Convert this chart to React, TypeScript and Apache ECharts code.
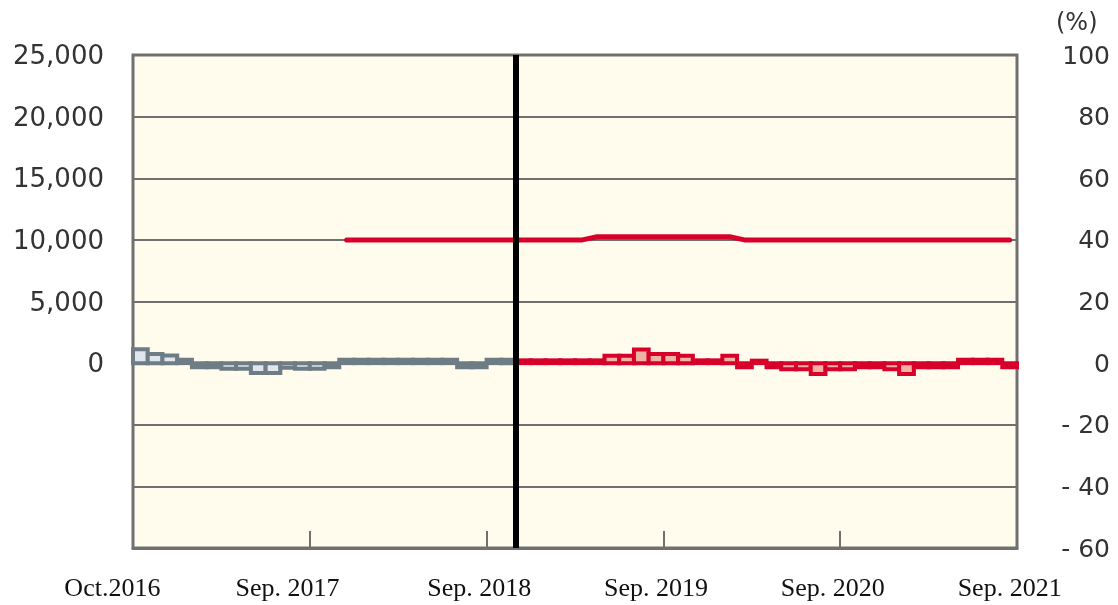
import React, { useEffect, useRef } from 'react';
import * as echarts from 'echarts';

const monthNames = ['Jan', 'Feb', 'Mar', 'Apr', 'May', 'Jun', 'Jul', 'Aug', 'Sep', 'Oct', 'Nov', 'Dec'];
const categories: string[] = [];
for (let i = 0; i < 60; i++) {
  const m = (9 + i) % 12;
  const y = 2016 + Math.floor((9 + i) / 12);
  categories.push(`${monthNames[m]} ${y}`);
}

const xLabelIndex = [0, 11, 23, 35, 47, 59];
const xLabelText = ['Oct.2016', 'Sep. 2017', 'Sep. 2018', 'Sep. 2019', 'Sep. 2020', 'Sep. 2021'];
const xTickIndex = [12, 24, 36, 48];

// index where the series changes colour (Dec 2018)
const changeIndex = 26;

// monthly change, % (right axis)
const barValues = [
  4.5, 3.0, 2.5, 1.1, -1.3, -1.3, -1.8, -1.8, -3.2, -3.2,
  -1.5, -1.8, -1.8, -1.3, 1.1, 1.1, 1.1, 1.1, 1.1, 1.1,
  1.1, 1.1, -1.3, -1.3, 1.1, 1.1, 0.9, 0.9, 0.9, 0.9,
  0.9, 0.9, 2.4, 2.4, 4.4, 3.0, 3.0, 2.4, 0.9, 0.9,
  2.4, -1.3, 0.8, -1.3, -2.0, -2.0, -3.5, -2.0, -2.0, -1.3,
  -1.3, -2.0, -3.5, -1.3, -1.3, -1.3, 1.1, 1.1, 1.1, -1.3,
];

// level (left axis)
const lineValues: (number | null)[] = [
  null, null, null, null, null, null, null, null, null, null,
  null, null, null, null, 10000, 10000, 10000, 10000, 10000, 10000,
  10000, 10000, 10000, 10000, 10000, 10000, 10000, 10000, 10000, 10000,
  10000, 10250, 10250, 10250, 10250, 10250, 10250, 10250, 10250, 10250,
  10250, 10000, 10000, 10000, 10000, 10000, 10000, 10000, 10000, 10000,
  10000, 10000, 10000, 10000, 10000, 10000, 10000, 10000, 10000, 10000,
];

const RED = '#d7002a';
const GRAY_BORDER = '#6e7c86';
const GRAY_FILL = '#dfe6ee';
const RED_FILL = '#f0b3a3';
const AXIS_GRAY = '#707070';

export default function App() {
  const ref = useRef<HTMLDivElement>(null);
  useEffect(() => {
    if (!ref.current) return;
    const chart = echarts.init(ref.current, null, { renderer: 'svg' });
    const serif = '"Liberation Serif", "Times New Roman", serif';
    const sans = '"DejaVu Sans", Verdana, sans-serif';
    chart.setOption({
      animation: false,
      grid: {
        left: 133, top: 55, width: 884, height: 493,
        show: true, backgroundColor: '#fffcee', borderColor: AXIS_GRAY, borderWidth: 3,
        containLabel: false,
      },
      graphic: [
        {
          type: 'text', left: 1056, top: 10,
          style: { text: '(%)', fontSize: 24, fontFamily: sans, fill: '#333' },
        },
      ],
      xAxis: [
        {
          type: 'category',
          data: categories,
          boundaryGap: true,
          axisLine: { show: true, onZero: false, lineStyle: { color: AXIS_GRAY, width: 3 } },
          axisTick: {
            show: true, inside: true, length: 17,
            interval: (i: number) => xTickIndex.includes(i),
            lineStyle: { color: AXIS_GRAY, width: 2 },
          },
          axisLabel: {
            interval: 0,
            margin: 26,
            fontSize: 26,
            fontFamily: serif,
            color: '#111',
            formatter: (_v: string, i: number) => {
              const k = xLabelIndex.indexOf(i);
              if (k < 0) return '';
              if (k === 0) return `{a|${xLabelText[k]}}`;
              if (k === 1) return `{b|${xLabelText[k]}}`;
              return `{c|${xLabelText[k]}}`;
            },
            rich: {
              a: { fontSize: 26, fontFamily: serif, color: '#111', padding: [0, 56, 0, 0] },
              b: { fontSize: 26, fontFamily: serif, color: '#111', padding: [0, 30, 0, 0] },
              c: { fontSize: 26, fontFamily: serif, color: '#111' },
            },
          },
          splitLine: { show: false },
        },
        { type: 'value', min: 0, max: 60, show: false },
      ],
      yAxis: [
        {
          type: 'value', position: 'left', min: -15000, max: 25000, interval: 5000,
          axisLine: { show: false }, axisTick: { show: false },
          axisLabel: {
            margin: 29, fontSize: 26, fontFamily: sans, color: '#333',
            formatter: (v: number) => (v < 0 ? '' : v.toLocaleString('en-US')),
          },
          splitLine: { show: true, lineStyle: { color: AXIS_GRAY, width: 2 } },
        },
        {
          type: 'value', position: 'right', min: -60, max: 100, interval: 20,
          axisLine: { show: false }, axisTick: { show: false },
          axisLabel: {
            margin: 93, align: 'right', fontSize: 25, fontFamily: sans, color: '#333',
            formatter: (v: number) => (v < 0 ? `- ${-v}` : `${v}`),
          },
          splitLine: { show: false },
        },
      ],
      series: [
        {
          type: 'custom',
          xAxisIndex: 0,
          yAxisIndex: 1,
          encode: { x: 0, y: 1 },
          data: barValues.map((v, i) => [i, v]),
          renderItem: (_params: any, api: any) => {
            const i = api.value(0);
            const v = api.value(1);
            const p0 = api.coord([i, 0]);
            const p1 = api.coord([i, v]);
            const w = api.size([1, 0])[0];
            const gray = i < changeIndex;
            return {
              type: 'rect',
              shape: {
                x: p0[0] - w / 2,
                y: Math.min(p0[1], p1[1]),
                width: w,
                height: Math.abs(p1[1] - p0[1]),
              },
              style: {
                fill: gray ? GRAY_FILL : RED_FILL,
                stroke: gray ? GRAY_BORDER : RED,
                lineWidth: 4,
              },
            };
          },
        },
        {
          type: 'line',
          xAxisIndex: 0,
          yAxisIndex: 0,
          data: lineValues,
          symbol: 'none',
          connectNulls: false,
          lineStyle: { color: RED, width: 5, cap: 'round' },
        },
        {
          type: 'line',
          xAxisIndex: 1,
          yAxisIndex: 0,
          data: [],
          symbol: 'none',
          markLine: {
            silent: true,
            symbol: ['none', 'none'],
            label: { show: false },
            lineStyle: { color: '#000', width: 6, type: 'solid' },
            data: [{ xAxis: changeIndex }],
          },
        },
      ],
    });
    return () => chart.dispose();
  }, []);
  return (
    <div
      ref={ref}
      style={{ position: 'fixed', left: 0, top: 0, width: 1118, height: 605 }}
    />
  );
}
